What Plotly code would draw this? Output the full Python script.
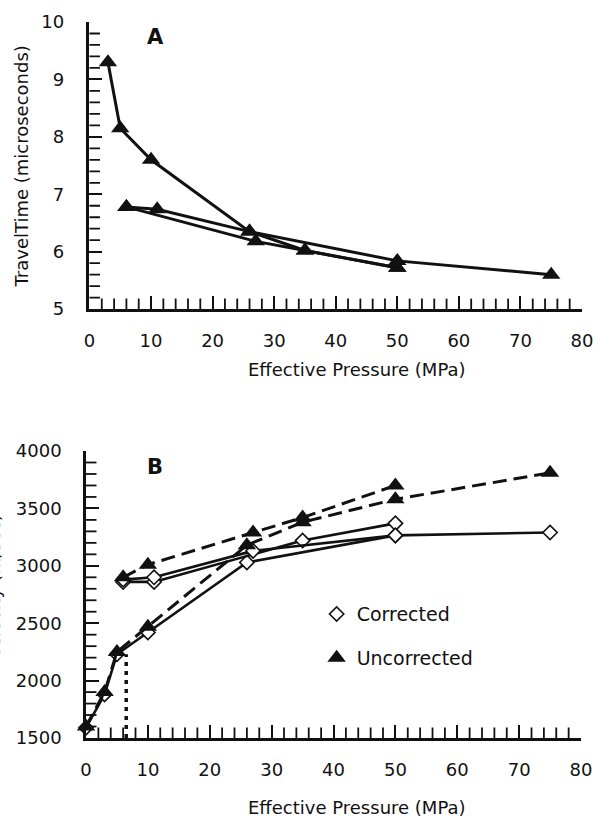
import plotly.graph_objects as go

# ---- Panel A: travel time vs effective pressure ----
a1_p = [3, 5, 10, 26, 35, 50]
a1_t = [9.3, 8.15, 7.6, 6.35, 6.02, 5.72]
a2_p = [6, 11, 26, 50, 75]
a2_t = [6.78, 6.74, 6.35, 5.84, 5.6]
a3_p = [6, 27, 35, 50]
a3_t = [6.78, 6.18, 6.02, 5.72]

# ---- Panel B: velocity vs effective pressure ----
# corrected (open diamonds, solid lines)
c1_p = [0, 3, 5, 10, 26, 50, 75]
c1_v = [1590, 1880, 2230, 2420, 3030, 3265, 3290]
c2_p = [6, 11, 35, 50]
c2_v = [2860, 2860, 3220, 3370]
c3_p = [6, 11, 27, 50]
c3_v = [2880, 2900, 3130, 3265]
# uncorrected (filled triangles, dashed lines)
u1_p = [0, 3, 5, 10, 26, 35, 50, 75]
u1_v = [1600, 1900, 2250, 2470, 3180, 3380, 3580, 3810]
u2_p = [6, 10, 27, 35, 50]
u2_v = [2900, 3010, 3290, 3420, 3700]
# dotted reference drop line
ref_p = [6.5, 6.5]
ref_v = [1500, 2230]

FONT = "DejaVu Sans"
BLACK = "#111111"

tri = dict(symbol="triangle-up", size=16, color=BLACK, line=dict(width=0))
dia = dict(symbol="diamond", size=11, color="white", line=dict(width=1.6, color=BLACK))

fig = go.Figure()


# short minor ticks: line markers centred on the axis line, clipped to the plot area
def minor_ticks(xa, ya, x0, y0, xs, ys):
    fig.add_trace(go.Scatter(x=xs, y=[y0] * len(xs), mode="markers", xaxis=xa, yaxis=ya,
                             marker=dict(symbol="line-ns-open", size=15, color=BLACK,
                                         line=dict(width=1.8, color=BLACK)),
                             showlegend=False, hoverinfo="skip", cliponaxis=True))
    fig.add_trace(go.Scatter(x=[x0] * len(ys), y=ys, mode="markers", xaxis=xa, yaxis=ya,
                             marker=dict(symbol="line-ew-open", size=15, color=BLACK,
                                         line=dict(width=1.8, color=BLACK)),
                             showlegend=False, hoverinfo="skip", cliponaxis=True))


x_minor = [v for v in range(2, 80, 2) if v % 10]
minor_ticks("x", "y", 0, 5, x_minor,
            [round(5 + 0.2 * k, 2) for k in range(1, 25) if k % 5])
minor_ticks("x2", "y2", 0, 1500, x_minor,
            [1500 + 100 * k for k in range(1, 25) if k % 5])

for px, py in [(a1_p, a1_t), (a2_p, a2_t), (a3_p, a3_t)]:
    fig.add_trace(go.Scatter(x=px, y=py, mode="lines+markers", xaxis="x", yaxis="y",
                             line=dict(color=BLACK, width=3), marker=tri,
                             showlegend=False, cliponaxis=False))

for px, py in [(c1_p, c1_v), (c2_p, c2_v), (c3_p, c3_v)]:
    fig.add_trace(go.Scatter(x=px, y=py, mode="lines+markers", xaxis="x2", yaxis="y2",
                             line=dict(color=BLACK, width=2.6), marker=dia,
                             showlegend=False, cliponaxis=False))

for px, py in [(u1_p, u1_v), (u2_p, u2_v)]:
    fig.add_trace(go.Scatter(x=px, y=py, mode="lines+markers", xaxis="x2", yaxis="y2",
                             line=dict(color=BLACK, width=3, dash="14px,7px"), marker=tri,
                             showlegend=False, cliponaxis=False))

fig.add_trace(go.Scatter(x=ref_p, y=ref_v, mode="lines", xaxis="x2", yaxis="y2",
                         line=dict(color=BLACK, width=3.5, dash="4px,5px"),
                         showlegend=False, cliponaxis=False))

# legend entries (markers only)
fig.add_trace(go.Scatter(x=[None], y=[None], mode="markers", xaxis="x2", yaxis="y2",
                         marker=dia, name="Corrected", legend="legend"))
fig.add_trace(go.Scatter(x=[None], y=[None], mode="markers", xaxis="x2", yaxis="y2",
                         marker=tri, name="Uncorrected", legend="legend2"))

tickfont = dict(family=FONT, size=18, color=BLACK)


def xax(domain, anchor):
    return dict(domain=domain, anchor=anchor, range=[0, 80], dtick=10, tick0=0,
                ticks="inside", ticklen=13, tickwidth=2, tickcolor=BLACK,
                showline=True, linewidth=2.5, linecolor=BLACK, mirror=False,
                showgrid=False, zeroline=False, tickfont=tickfont, ticklabelstandoff=14)


def yax(domain, anchor, rng, dt, stand):
    return dict(domain=domain, anchor=anchor, range=rng, dtick=dt, tick0=rng[0],
                ticks="inside", ticklen=13, tickwidth=2, tickcolor=BLACK,
                showline=True, linewidth=2.5, linecolor=BLACK, mirror=False,
                showgrid=False, zeroline=False, tickfont=tickfont, ticklabelstandoff=stand)


title_font = dict(family=FONT, size=18, color=BLACK)

annotations = [
    dict(text="<b>A</b>", x=10.8, y=9.74, xref="x", yref="y", showarrow=False,
         font=dict(family=FONT, size=21, color=BLACK)),
    dict(text="<b>B</b>", x=11.2, y=3862, xref="x2", yref="y2", showarrow=False,
         font=dict(family=FONT, size=21, color=BLACK)),
    dict(text="Effective Pressure (MPa)", x=0.546, y=0.5146, xref="paper", yref="paper",
         showarrow=False, font=title_font, xanchor="center", yanchor="middle"),
    dict(text="Effective Pressure (MPa)", x=0.546, y=-0.097, xref="paper", yref="paper",
         showarrow=False, font=title_font, xanchor="center", yanchor="middle"),
    dict(text="TravelTime (microseconds)", x=-0.13, y=0.7975, xref="paper", yref="paper",
         showarrow=False, font=title_font, textangle=-90, xanchor="center", yanchor="middle"),
    dict(text="Velocity (m/sec)", x=-0.187, y=0.212, xref="paper", yref="paper",
         showarrow=False, font=title_font, textangle=-90, xanchor="center", yanchor="middle"),
]

legend_font = dict(family=FONT, size=19, color=BLACK)

fig.update_layout(
    width=604, height=819,
    margin=dict(l=86, r=11, t=17, b=81),
    paper_bgcolor="white", plot_bgcolor="white",
    xaxis=xax([0.007, 1.0], "y"),
    yaxis=yax([0.599, 1.0], "x", [5, 10], 1, 19),
    xaxis2=xax([0.0, 0.998], "y2"),
    yaxis2=yax([0.0, 0.4008], "x2", [1500, 4000], 500, 18),
    annotations=annotations,
    legend=dict(x=0.465, y=0.173, xanchor="left", yanchor="middle", font=legend_font,
                bgcolor="rgba(0,0,0,0)", borderwidth=0),
    legend2=dict(x=0.465, y=0.112, xanchor="left", yanchor="middle", font=legend_font,
                 bgcolor="rgba(0,0,0,0)", borderwidth=0),
)

fig.write_html("out.html")
